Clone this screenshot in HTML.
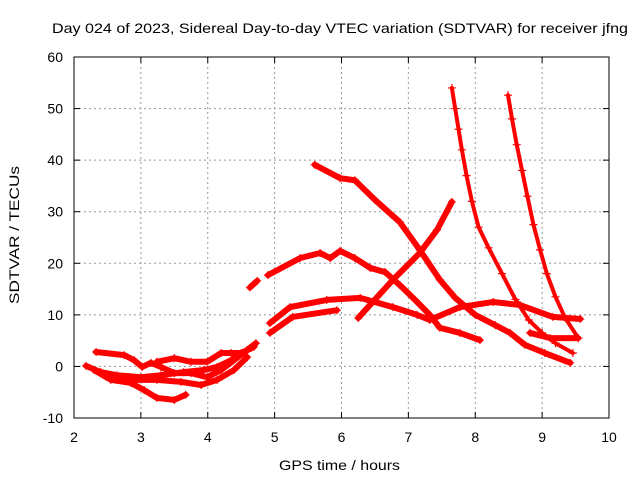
<!DOCTYPE html>
<html><head><meta charset="utf-8"><style>
body{margin:0;background:#fff}
svg{display:block;font-family:"Liberation Sans",sans-serif}
</style></head><body>
<svg id="chart" width="640" height="480">
<rect width="640" height="480" fill="#fff"/>
<text x="52" y="33" font-size="14" textLength="576" lengthAdjust="spacingAndGlyphs">Day 024 of 2023, Sidereal Day-to-day VTEC variation (SDTVAR) for receiver jfng</text>
<text x="279" y="470" font-size="14" textLength="121" lengthAdjust="spacingAndGlyphs">GPS time / hours</text>
<text transform="translate(19,304) rotate(-90)" font-size="14" textLength="138" lengthAdjust="spacingAndGlyphs">SDTVAR / TECUs</text>
<g id="grid"></g><g id="ticks"></g><g id="series"></g>
<rect x="74" y="57" width="535" height="361" fill="none" stroke="#000" stroke-width="1"/>
</svg>
<script>
const xTicks=[2,3,4,5,6,7,8,9,10];
const yTicks=[-10,0,10,20,30,40,50,60];
const trackA=[[5.6,39.1],[5.98,36.5],[6.2,36.1],[6.5,32.3],[6.87,28],[7.17,22.6],[7.47,16.8],[7.7,13.3],[8,10],[8.3,8],[8.52,6.5],[8.74,4.2],[9.04,2.6],[9.42,0.7]];
const trackB=[[4.9,17.7],[5.38,21],[5.68,22],[5.83,21],[5.98,22.4],[6.2,21],[6.43,19.1],[6.65,18.3],[6.87,15.8],[7.1,12.9],[7.32,10],[7.47,7.5],[7.77,6.5],[8.07,5.1]];
const trackC=[[4.93,8.4],[5.23,11.5],[5.78,12.9],[6.28,13.3],[6.77,11.5],[7.13,10],[7.32,9],[7.77,11.5],[8.27,12.5],[8.67,11.9],[9.16,9.6],[9.57,9.2]];
const trackD=[[4.93,6.5],[5.27,9.6],[5.93,10.9]];
const trackE=[[6.25,9.4],[6.77,16.8],[7.17,22],[7.43,26.5],[7.65,31.9]];
const trackF=[[7.65,54],[7.7,50],[7.75,46],[7.8,42],[7.87,37],[7.95,32],[8.05,27],[8.2,23],[8.4,18],[8.6,13],[8.8,9],[9,6.5],[9.2,4.5],[9.46,2.6]];
const trackG=[[8.49,52.6],[8.55,48],[8.62,43],[8.7,38],[8.78,33],[8.87,27.5],[8.97,22.6],[9.07,18],[9.2,13.5],[9.34,9.5],[9.54,5.5]];
const trackH=[[8.82,6.5],[9.12,5.5],[9.54,5.5]];
const trackL1=[[2.33,2.8],[2.75,2.2],[2.9,1.2],[3.02,-0.1],[3.15,0.7],[3.3,-0.1],[3.5,-1.3],[3.75,-1.3],[3.99,-2.1],[4.2,-0.7],[4.39,1.2],[4.59,3.2],[4.72,4.5]];
const trackL2=[[3.24,0.9],[3.5,1.6],[3.75,0.9],[3.99,0.9],[4.2,2.6],[4.35,2.6],[4.5,2.6],[4.69,3.8]];
const trackL3=[[2.18,0.1],[2.4,-1.1],[2.64,-1.7],[3,-2.1],[3.3,-1.7],[3.64,-1.1],[3.94,-0.7],[4.14,-0.1],[4.35,1.2],[4.65,3.6]];
const trackL4=[[2.3,-0.7],[2.55,-2.6],[2.85,-3.2],[3.05,-4.6],[3.24,-6.1],[3.5,-6.5],[3.67,-5.5]];
const trackL5=[[2.64,-2.6],[3.24,-2.6],[3.6,-3],[3.9,-3.6],[4.14,-2.6],[4.39,-0.7],[4.59,1.8]];
const trackS=[[4.63,15.3],[4.74,16.6]];
const tracks=[trackA,trackB,trackC,trackD,trackE,trackF,trackG,trackH,trackL1,trackL2,trackL3,trackL4,trackL5,trackS];
const thin=[trackF,trackG];
const X=h=>74+(h-2)*(535/8);
const Y=v=>418-(v+10)*(361/70);
const NS="http://www.w3.org/2000/svg";
const grid=document.getElementById('grid'),ticks=document.getElementById('ticks'),ser=document.getElementById('series');
function mk(tag,attrs,parent){const e=document.createElementNS(NS,tag);for(const k in attrs)e.setAttribute(k,attrs[k]);parent.appendChild(e);return e;}
xTicks.forEach(t=>{
  const x=X(t);
  if(t>2&&t<10){const g=mk('line',{x1:x,x2:x,y1:57,y2:418,stroke:'#999','stroke-dasharray':'2,3'},grid);
  
  }
  mk('line',{x1:x,x2:x,y1:418,y2:412,stroke:'#000'},ticks);
  mk('line',{x1:x,x2:x,y1:57,y2:63,stroke:'#000'},ticks);
  const l=mk('text',{x:x,y:442,'font-size':14,'text-anchor':'middle'},ticks);l.textContent=t;
  
  
});
yTicks.forEach(t=>{
  const y=Y(t);
  if(t>-10&&t<60){const g=mk('line',{x1:74,x2:609,y1:y,y2:y,stroke:'#999','stroke-dasharray':'2,3'},grid);
  
  }
  mk('line',{x1:74,x2:80,y1:y,y2:y,stroke:'#000'},ticks);
  mk('line',{x1:603,x2:609,y1:y,y2:y,stroke:'#000'},ticks);
  const l=mk('text',{x:63,y:y+5,'font-size':14,'text-anchor':'end'},ticks);l.textContent=t;
  
  
});
tracks.forEach((tr,i)=>{
  const w=thin.includes(tr)?4:6;
  const p=mk('polyline',{points:tr.map(d=>X(d[0])+','+Y(d[1])).join(' '),fill:'none',stroke:'#f00','stroke-width':w,'stroke-linejoin':'round','stroke-linecap':'round'},ser);
  
  
  tr.forEach(d=>{const x=X(d[0]),y=Y(d[1]);
    const m=mk('path',{d:`M${x-4},${y}H${x+4}M${x},${y-4}V${y+4}`,stroke:'#f00','stroke-width':1.2},ser);
    
    });
});
</script>
</body></html>
